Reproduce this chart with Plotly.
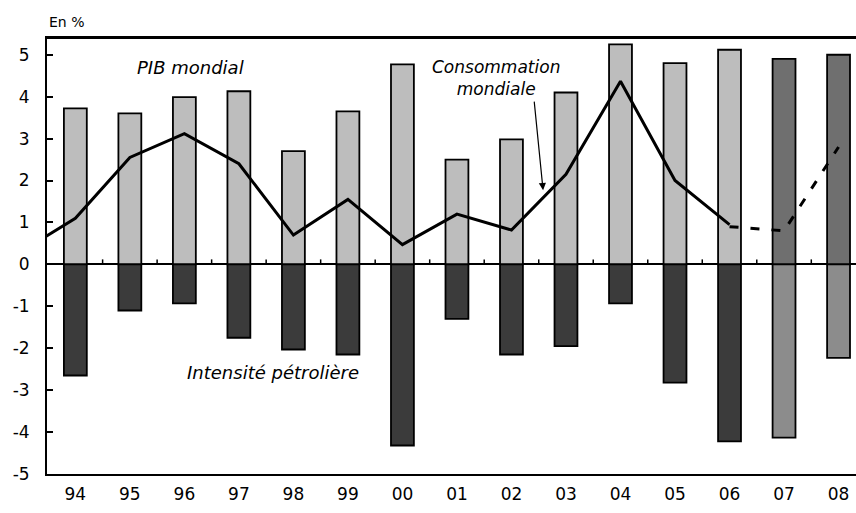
import plotly.graph_objects as go

years = [1994, 1995, 1996, 1997, 1998, 1999, 2000, 2001, 2002, 2003, 2004, 2005, 2006, 2007, 2008]
year_labels = ["94", "95", "96", "97", "98", "99", "00", "01", "02", "03", "04", "05", "06", "07", "08"]
pib_mondial = [3.72, 3.6, 3.99, 4.13, 2.7, 3.65, 4.77, 2.5, 2.98, 4.1, 5.25, 4.8, 5.12, 4.9, 5.0]
intensite = [-2.65, -1.1, -0.93, -1.75, -2.03, -2.15, -4.32, -1.3, -2.15, -1.95, -0.93, -2.82, -4.22, -4.13, -2.23]
# Consommation mondiale (solid: observed, dashed: forecast)
conso_years = [1993, 1994, 1995, 1996, 1997, 1998, 1999, 2000, 2001, 2002, 2003, 2004, 2005, 2006]
conso = [0.3, 1.1, 2.55, 3.12, 2.4, 0.7, 1.55, 0.47, 1.2, 0.82, 2.15, 4.37, 2.0, 0.95]
prev_years = [2006, 2007, 2008]
conso_prev = [0.9, 0.8, 2.8]
forecast_from = 2007

pib_colors = ["#6f6f6f" if y >= forecast_from else "#bdbdbd" for y in years]
int_colors = ["#8c8c8c" if y >= forecast_from else "#3b3b3b" for y in years]

font = "'DejaVu Sans', sans-serif"

fig = go.Figure()
fig.add_trace(go.Bar(x=years, y=pib_mondial, width=0.42, marker=dict(color=pib_colors, line=dict(color="black", width=1.8)), name="PIB mondial"))
fig.add_trace(go.Bar(x=years, y=intensite, width=0.42, marker=dict(color=int_colors, line=dict(color="black", width=1.8)), name="Intensité pétrolière"))
fig.add_trace(go.Scatter(x=conso_years, y=conso, mode="lines", line=dict(color="black", width=3), name="Consommation mondiale"))
fig.add_trace(go.Scatter(x=prev_years, y=conso_prev, mode="lines", line=dict(color="black", width=3, dash="9px,12px"), name="Prévision"))

# small ticks on the zero line between years
for i in range(len(years) - 1):
    xm = (years[i] + years[i + 1]) / 2
    fig.add_shape(type="line", xref="x", yref="y", x0=xm, x1=xm, y0=0, y1=5, ysizemode="pixel", yanchor=0,
                  line=dict(color="black", width=1.5))
# top frame line
fig.add_shape(type="line", xref="paper", yref="paper", x0=0, x1=1, y0=1, y1=1, line=dict(color="black", width=2))

fig.add_annotation(text="En %", xref="paper", yref="paper", x=0, y=1, xanchor="left", yanchor="bottom", yshift=6,
                   showarrow=False, font=dict(family=font, size=14, color="black"))
fig.add_annotation(text="<i>PIB mondial</i>", x=1996.12, y=4.7, showarrow=False, font=dict(family=font, size=18, color="black"))
fig.add_annotation(text="<i>Consommation<br>mondiale</i>", x=2001.71, y=4.45, showarrow=False,
                   font=dict(family=font, size=17, color="black"), align="center")
fig.add_annotation(text="<i>Intensité pétrolière</i>", x=1997.62, y=-2.58, showarrow=False, font=dict(family=font, size=18, color="black"))
fig.add_annotation(text="", x=2002.58, y=1.77, ax=-9, ay=-90, showarrow=True, arrowhead=2, arrowsize=1.2,
                   arrowwidth=1.2, arrowcolor="black")

fig.update_layout(
    width=856, height=513,
    margin=dict(l=47, r=0, t=38, b=39),
    plot_bgcolor="white", paper_bgcolor="white",
    barmode="relative", showlegend=False,
    font=dict(family=font, size=17, color="black"),
    xaxis=dict(range=[1993.48, 2008.32], tickvals=years, ticktext=year_labels, showgrid=False, zeroline=False,
               showline=True, linecolor="black", linewidth=2, mirror=True, ticks="", ticklabelstandoff=4,
               tickfont=dict(size=17), automargin=False),
    yaxis=dict(range=[-5, 5.4], tickvals=[5, 4, 3, 2, 1, 0, -1, -2, -3, -4, -5],
               ticktext=["5", "4", "3", "2", "1", "0", "-1", "-2", "-3", "-4", "-5"],
               showgrid=False, zeroline=True, zerolinecolor="black", zerolinewidth=2,
               showline=True, linecolor="black", linewidth=2, mirror=False,
               ticks="inside", ticklen=6, tickwidth=1.5, tickcolor="black", ticklabelstandoff=12,
               tickfont=dict(size=17), automargin=False),
)

fig.write_html("out.html", config={"displayModeBar": False},
               post_script="document.body.style.margin='0';document.body.style.overflow='hidden';")
